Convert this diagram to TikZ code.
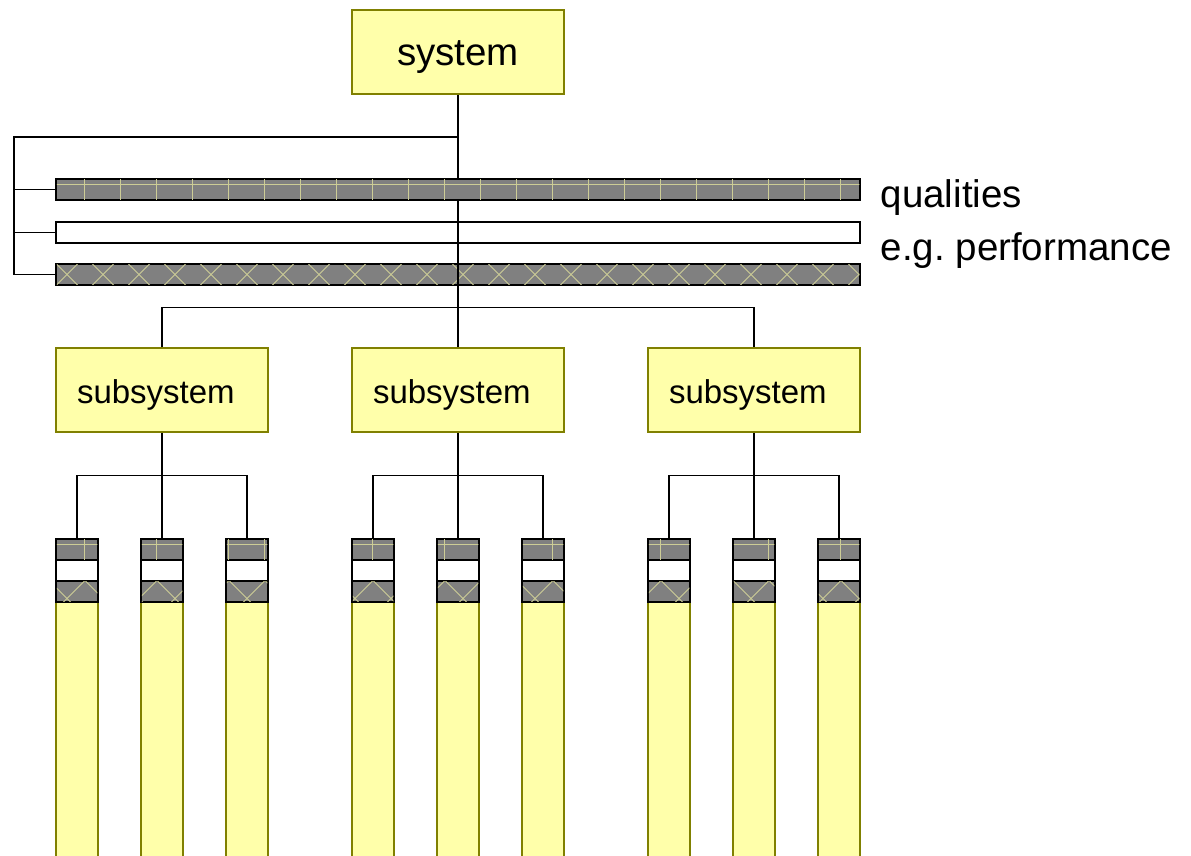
\documentclass[tikz,border=0pt]{standalone}
\usepackage{fontspec}
\setmainfont{Liberation Sans}
\definecolor{boxfill}{RGB}{255,255,170}
\definecolor{boxline}{RGB}{128,128,0}
\definecolor{bargray}{RGB}{128,128,128}
\definecolor{hatchcol}{RGB}{205,205,150}
\newcommand{\gridpattern}{%
  \foreach \k in {0,...,33}{%
    \draw[hatchline] ({12+36*\k},-10) -- ++(0,900);}
  \foreach \k in {0,...,24}{%
    \draw[hatchline] (-10,{4+36*\k}) -- ++(1300,0);}
  }
\newcommand{\crosspattern}{%
  \foreach \k in {-26,...,34}{%
    \draw[hatchline] ({-207.5+36*\k},0) -- ++(900,900);}
  \foreach \k in {-10,...,50}{%
    \draw[hatchline] ({341.5+36*\k},0) -- ++(-900,900);}
  }
% fill the inside of a named node with a pattern, clipped inside its border
\newcommand{\patnode}[2]{%
  \begin{scope}
    \clip ([shift={(1.5,-1.5)}]#1.south west) rectangle ([shift={(-1.5,1.5)}]#1.north east);
    #2
  \end{scope}}
\begin{document}
\frenchspacing
\begin{tikzpicture}[x=1pt,y=-1pt,line width=1.5pt,
  hatchline/.style={draw=hatchcol,line width=0.9pt},
  conn/.style={draw=black,line width=1.5pt},
  sysbox/.style={rectangle,draw=boxline,fill=boxfill,line width=1.5pt,
    minimum width=212,minimum height=84,inner sep=0,
    font=\fontsize{38.5}{46}\selectfont,text height=30,text depth=4},
  subbox/.style={rectangle,draw=boxline,fill=boxfill,line width=1.5pt,
    minimum height=84,inner xsep=21,inner ysep=0,text width=170,align=left,
    font=\fontsize{33}{40}\selectfont,text height=30,text depth=4},
  graybar/.style={rectangle,draw=black,fill=bargray,inner sep=0,minimum height=21},
  plainbar/.style={rectangle,draw=black,fill=white,inner sep=0,minimum height=21},
  column/.style={rectangle,draw=boxline,fill=boxfill,inner sep=0,
    minimum width=42,minimum height=268},
]
\useasboundingbox (0,0) rectangle (1191,855);

% system
\node[sysbox] (sys) at (458,52) {system};

% quality bars
\node[graybar,minimum width=804] (bar1) at (458,189.5) {};
\node[plainbar,minimum width=804] (bar2) at (458,232.5) {};
\node[graybar,minimum width=804] (bar3) at (458,274.5) {};
\patnode{bar1}{\gridpattern}
\patnode{bar3}{\crosspattern}

\node[anchor=base west,align=left,inner sep=0,
  font=\fontsize{38.5}{53}\selectfont] (qual) at (880,260)
  {qualities\\e.g. performance};

% connectors system -> bars
\coordinate (j0) at (458,137);
\coordinate (rail) at (14,137);
\draw[conn] (sys.south) -- (bar1.north);
\draw[conn] (j0) -- (rail) |- (bar3.west);
\draw[conn] (rail |- bar1.west) -- (bar1.west);
\draw[conn] (rail |- bar2.west) -- (bar2.west);

% subsystems
\foreach \g/\cx in {1/162,2/458,3/754}{
  \node[subbox] (sub\g) at (\cx,390) {subsystem};
  \coordinate (g\g) at (\cx,475.5);
  \foreach \c/\dx in {1/-85,2/0,3/85}{
    \node[column] (y\g\c) at ({\cx+(\dx)},736) {};
    \node[graybar,minimum width=42] (x\g\c) at ({\cx+(\dx)},591.5) {};
    \node[plainbar,minimum width=42] (w\g\c) at ({\cx+(\dx)},570.5) {};
    \node[graybar,minimum width=42] (t\g\c) at ({\cx+(\dx)},549.5) {};
    \patnode{x\g\c}{\crosspattern}
    \patnode{t\g\c}{\gridpattern}
  }
  \draw[conn] (sub\g.south) -- (g\g);
  \draw[conn] (t\g1.north) |- (g\g) -| (t\g3.north);
  \draw[conn] (g\g) -- (t\g2.north);
}

\coordinate (j1) at (458,307.5);
\draw[conn] (bar1.south) -- (j1);
\draw[conn] (sub1.north) |- (j1) -| (sub3.north);
\draw[conn] (j1) -- (sub2.north);
\end{tikzpicture}
\end{document}
